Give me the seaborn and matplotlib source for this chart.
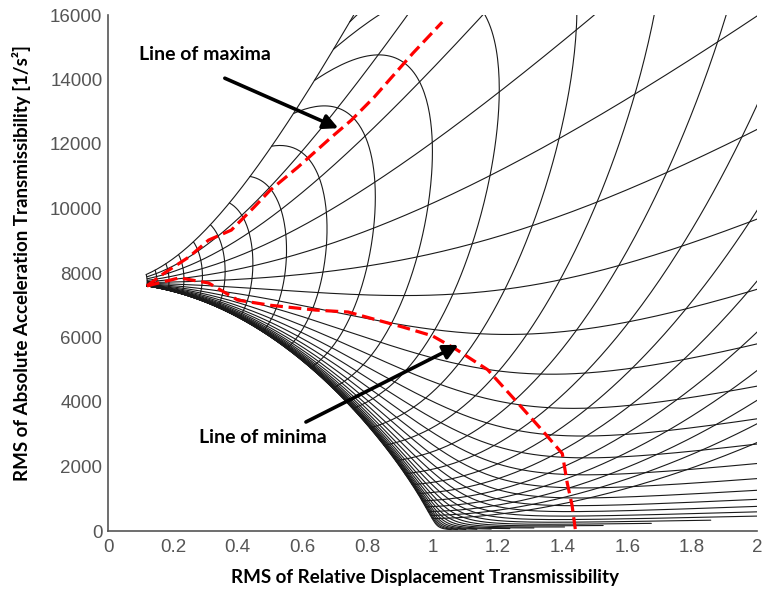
import numpy as np
import pandas as pd
import matplotlib
matplotlib.use("Agg")
import matplotlib.pyplot as plt
import seaborn as sns

# ---------------- data ----------------
# normalised isolator grid: stiffness values (one curve each) and damping values (one arc each)
stiffness_values = np.logspace(-3, np.log10(1.4), 30)
damping_values = np.logspace(np.log10(0.04), np.log10(5.4), 23)
damping_floor = 0.004
convergence_x, convergence_y = 0.12, 7600.0
band = np.linspace(0.002, 1.0, 1500)
band_weight = np.sqrt(band) / np.sqrt(band).sum()

# red dashed guide lines
max_x = [0.12, 0.174, 0.25, 0.31, 0.38, 0.45, 0.50, 0.585, 0.685, 0.75, 0.82, 0.94, 1.03]
max_y = [7600, 8000, 8500, 9020, 9330, 10040, 10570, 11280, 12180, 12740, 13450, 14820, 15780]
min_x = [0.12, 0.22, 0.31, 0.40, 0.50, 0.64, 0.74, 0.83, 0.91, 1.00, 1.07, 1.17, 1.26, 1.34, 1.40, 1.415, 1.43, 1.44]
min_y = [7600, 7850, 7690, 7160, 7000, 6850, 6790, 6540, 6320, 6050, 5650, 5000, 4000, 3100, 2400, 1500, 800, 60]

x_ticks = [0, 0.2, 0.4, 0.6, 0.8, 1, 1.2, 1.4, 1.6, 1.8, 2]
x_tick_labels = ["0", "0.2", "0.4", "0.6", "0.8", "1", "1.2", "1.4", "1.6", "1.8", "2"]
y_ticks = [0, 2000, 4000, 6000, 8000, 10000, 12000, 14000, 16000]
y_tick_labels = ["0", "2000", "4000", "6000", "8000", "10000", "12000", "14000", "16000"]


def rms_pair(k, c):
    w = band[None, :]
    den = k[:, None] - w**2 + 1j * c[:, None] * w
    hz = w**2 / den
    ha = w**2 * (k[:, None] + 1j * c[:, None] * w) / den
    return (np.sqrt((np.abs(hz)**2 * band_weight).sum(1)),
            np.sqrt((np.abs(ha)**2 * band_weight).sum(1)))


# scale so that the high-damping corner sits at the convergence point
xc, yc = rms_pair(np.array([stiffness_values[0]]), np.array([damping_values[-1]]))
accel_scale = convergence_y / yc[0]

frames = []
c_fine = np.logspace(np.log10(damping_floor), np.log10(damping_values[-1]), 600)
k_fine = np.logspace(np.log10(stiffness_values[0]), np.log10(stiffness_values[-1]), 500)
for i, k in enumerate(stiffness_values):
    X, Y = rms_pair(np.full_like(c_fine, k), c_fine)
    frames.append(pd.DataFrame({"x": X, "y": Y * accel_scale, "curve": f"k{i}"}))
for j, c in enumerate(damping_values):
    X, Y = rms_pair(k_fine, np.full_like(k_fine, c))
    frames.append(pd.DataFrame({"x": X, "y": Y * accel_scale, "curve": f"c{j}"}))
grid_df = pd.concat(frames, ignore_index=True)
grid_df["x"] = grid_df["x"].clip(upper=6)
grid_df["y"] = grid_df["y"].clip(upper=50000)

sns.set_style("white")
plt.rcParams["font.family"] = ["Liberation Sans Narrow", "Liberation Sans", "DejaVu Sans"]

fig = plt.figure(figsize=(7.67, 5.92), dpi=100)
ax = fig.add_axes([108 / 767, 1 - 531 / 592, 649 / 767, 516 / 592])

sns.lineplot(data=grid_df, x="x", y="y", units="curve", estimator=None, sort=False,
             color="#1a1a1a", lw=0.8, ax=ax, legend=False)

red_max = pd.DataFrame({"x": max_x, "y": max_y})
red_min = pd.DataFrame({"x": min_x, "y": min_y})
for d in (red_max, red_min):
    sns.lineplot(data=d, x="x", y="y", sort=False, estimator=None, color="red", lw=2.3,
                 linestyle=(0, (4.0, 1.8)), ax=ax, legend=False)

ax.set_xlim(0, 2)
ax.set_ylim(0, 16000)
ax.set_xticks(x_ticks)
ax.set_xticklabels(x_tick_labels)
ax.set_yticks(y_ticks)
ax.set_yticklabels(y_tick_labels)
ax.tick_params(direction="in", length=5, width=1, colors="#555555", labelsize=13.5, pad=4)
ax.tick_params(axis="x", pad=6)
for s in ("top", "right"):
    ax.spines[s].set_visible(False)
for s in ("left", "bottom"):
    ax.spines[s].set_color("#555555")
    ax.spines[s].set_linewidth(1.2)

lab_font = dict(family=["Lato", "DejaVu Sans"], weight="bold", size=13.5, color="black")
ax.set_xlabel("RMS of Relative Displacement Transmissibility", **lab_font)
ax.set_ylabel("RMS of Absolute Acceleration Transmissibility [1/s²]", **lab_font)
ax.xaxis.set_label_coords((425 - 108) / 649, (531 - 578) / 516)
ax.xaxis.label.set_va("center")
ax.yaxis.set_label_coords((22 - 108) / 649, (531 - 263) / 516)
ax.yaxis.label.set_va("center")

ann_font = dict(family=["Lato", "DejaVu Sans"], weight="bold", size=14, color="black")
ax.text(0.30, 14760, "Line of maxima", ha="center", va="center", **ann_font)
ax.text(0.478, 2914, "Line of minima", ha="center", va="center", **ann_font)
arrow = dict(arrowstyle="-|>", lw=2.6, color="black", mutation_scale=22, shrinkA=0, shrinkB=0)
ax.annotate("", xy=(0.71, 12490), xytext=(0.36, 14040), arrowprops=arrow)
ax.annotate("", xy=(1.08, 5770), xytext=(0.61, 3380), arrowprops=arrow)

fig.savefig("out.png", dpi=100)
